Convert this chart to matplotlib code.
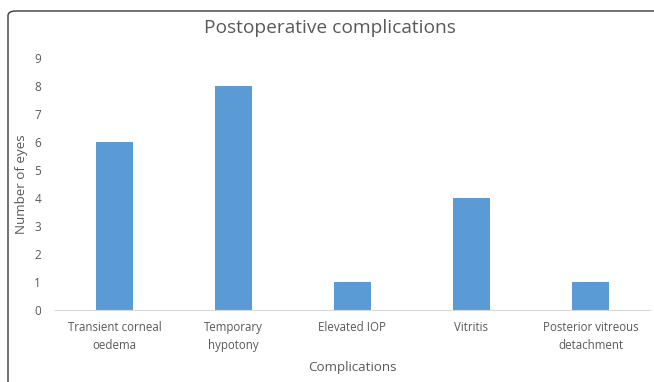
import matplotlib.pyplot as plt
from matplotlib.patches import FancyBboxPatch

# 数据
categories = ['Transient corneal\noedema', 'Temporary\nhypotony', 'Elevated IOP',
              'Vitritis', 'Posterior vitreous\ndetachment']
eyes = [6, 8, 1, 4, 1]
yticks = list(range(0, 10))

W, H = 654, 382
fig = plt.figure(figsize=(W / 100, H / 100), dpi=100, facecolor='white')
plt.rcParams['font.family'] = ['Open Sans', 'DejaVu Sans']

# 外框（左上圆角，右侧和底部超出画面）
frame = FancyBboxPatch((8 / W, -0.1), 1.2, (H - 11) / H + 0.1,
                       boxstyle='round,pad=0,rounding_size=0.012',
                       transform=fig.transFigure, fill=False,
                       edgecolor='#3a3a3a', linewidth=1.0)
fig.patches.append(frame)

# 坐标轴位置：x 55..650, y 58(9)..310(0)
ax = fig.add_axes([55 / W, (H - 310) / H, 595 / W, 252 / H])
x = list(range(len(categories)))
ax.bar(x, eyes, width=0.31, color='#5b9bd5', zorder=2)
ax.set_xlim(-0.5, len(categories) - 0.5)
ax.set_ylim(0, 9)
ax.set_yticks(yticks)
ax.set_xticks(x)
ax.set_xticklabels(categories, fontsize=8.3, color='#595959', linespacing=1.5)
ax.tick_params(axis='y', labelsize=8.5, labelcolor='#595959', length=0, pad=10)
ax.tick_params(axis='x', length=0, pad=8)
for s in ['top', 'right', 'left']:
    ax.spines[s].set_visible(False)
ax.spines['bottom'].set_color('#d9d9d9')

fig.text(330 / W, 1 - 28 / H, 'Postoperative complications', ha='center', va='center',
         fontsize=13.8, color='#595959')
fig.text(22 / W, 1 - 184 / H, 'Number of eyes', ha='center', va='center',
         rotation=90, fontsize=9.6, color='#595959')
fig.text(352 / W, 1 - 368 / H, 'Complications', ha='center', va='center',
         fontsize=9.6, color='#595959')

fig.savefig('out.png', dpi=100, facecolor='white')
